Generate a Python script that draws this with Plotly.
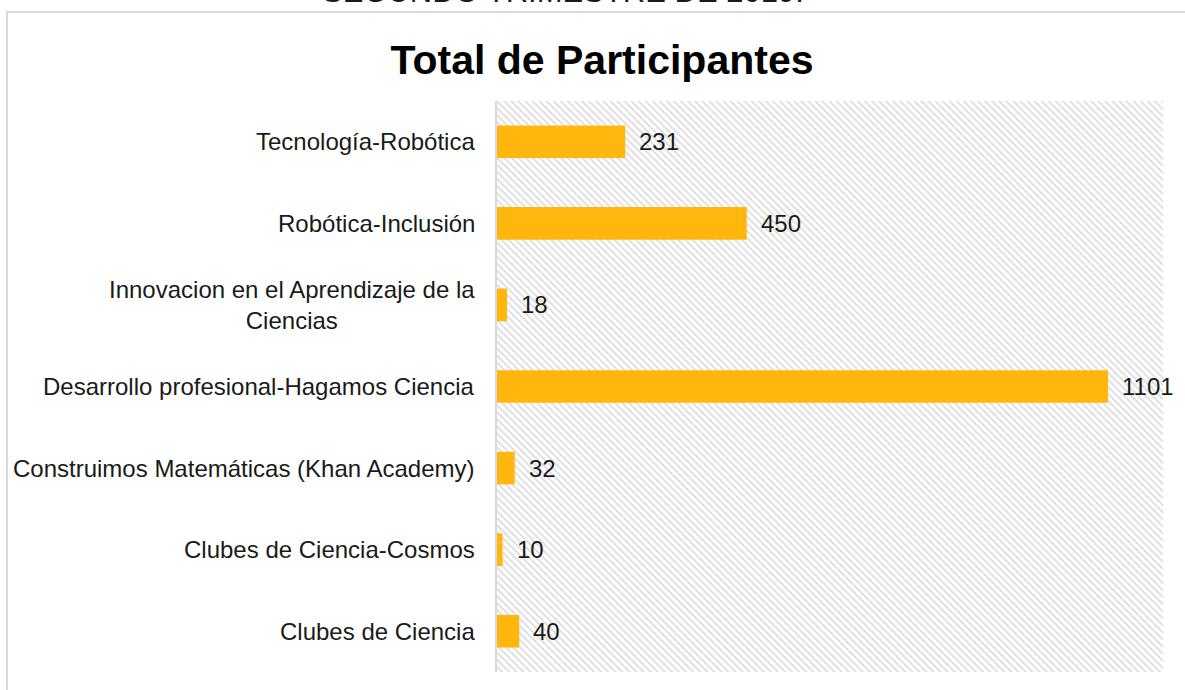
import plotly.graph_objects as go

categorias = [
    "Clubes de Ciencia",
    "Clubes de Ciencia-Cosmos",
    "Construimos Matemáticas (Khan Academy)",
    "Desarrollo profesional-Hagamos Ciencia",
    "Innovacion en el Aprendizaje de la Ciencias",
    "Robótica-Inclusión",
    "Tecnología-Robótica",
]
etiquetas = [
    "Clubes de Ciencia",
    "Clubes de Ciencia-Cosmos",
    "Construimos Matemáticas (Khan Academy)",
    "Desarrollo profesional-Hagamos Ciencia",
    "Innovacion en el Aprendizaje de la<br>Ciencias",
    "Robótica-Inclusión",
    "Tecnología-Robótica",
]
participantes = [40, 10, 32, 1101, 18, 450, 231]
x_max = 1200

FONT = "Liberation Sans, Arial, sans-serif"

fig = go.Figure()

# fondo rayado: una sola barra en los ejes base, las barras reales van encima (y2)
fig.add_trace(
    go.Bar(
        x=[x_max], y=[0.5], width=[1], orientation="h",
        marker=dict(
            color="white",
            line=dict(width=0),
            pattern=dict(shape="\\", fgcolor="#bdbdbd", bgcolor="white", size=5, solidity=0.4),
        ),
        hoverinfo="skip", showlegend=False,
        xaxis="x", yaxis="y",
    )
)

fig.add_trace(
    go.Bar(
        x=participantes, y=categorias, orientation="h", width=0.4,
        marker=dict(color="#FFB70D", line=dict(width=0)),
        showlegend=False,
        xaxis="x", yaxis="y2",
    )
)

annotations = []
for cat, lab, val in zip(categorias, etiquetas, participantes):
    annotations.append(dict(
        x=0, y=cat, xref="paper", yref="y2", text=lab, showarrow=False,
        xanchor="right", xshift=-20, align="center",
        font=dict(family=FONT, size=24, color="#1a1a1a"),
    ))
    annotations.append(dict(
        x=val, y=cat, xref="x", yref="y2", text=str(val), showarrow=False,
        xanchor="left", xshift=12,
        font=dict(family=FONT, size=24, color="#1a1a1a"),
    ))

# titulo superior, recortado por el borde de la imagen como en el original
annotations.append(dict(
    x=(563 - 497) / 666, y=(672 - 11) / 571, xref="paper", yref="paper",
    text="SEGUNDO TRIMESTRE DE 2019.",
    showarrow=False, xanchor="center", yanchor="bottom",
    font=dict(family=FONT, size=31, color="#1a1a1a"),
))

fig.update_layout(
    width=1185, height=690,
    paper_bgcolor="white", plot_bgcolor="white",
    margin=dict(l=497, r=22, t=101, b=18),
    barmode="overlay",
    title=dict(
        text="<b>Total de Participantes</b>",
        x=602 / 1185, xanchor="center", y=1 - 60 / 690, yanchor="middle",
        font=dict(family=FONT, size=41, color="black"),
    ),
    xaxis=dict(range=[0, x_max], visible=False, fixedrange=True),
    yaxis=dict(range=[0, 1], visible=False, fixedrange=True),
    yaxis2=dict(
        overlaying="y", categoryorder="array", categoryarray=categorias,
        range=[-0.5, len(categorias) - 0.5],
        showticklabels=False, showgrid=False, zeroline=False,
        showline=True, linecolor="#d9d9d9", linewidth=2, ticks="",
    ),
    annotations=annotations,
    shapes=[dict(
        type="rect", xref="paper", yref="paper",
        x0=(7 - 497) / 666, x1=1.1, y0=-0.1, y1=(672 - 12) / 571,
        line=dict(color="#d9d9d9", width=2), fillcolor="rgba(0,0,0,0)",
        layer="below",
    )],
)

# sin margen del body para que la figura ocupe la ventana desde (0, 0)
fig.write_html(
    "out.html",
    config={"displayModeBar": False},
    post_script="document.body.style.margin='0';",
)
